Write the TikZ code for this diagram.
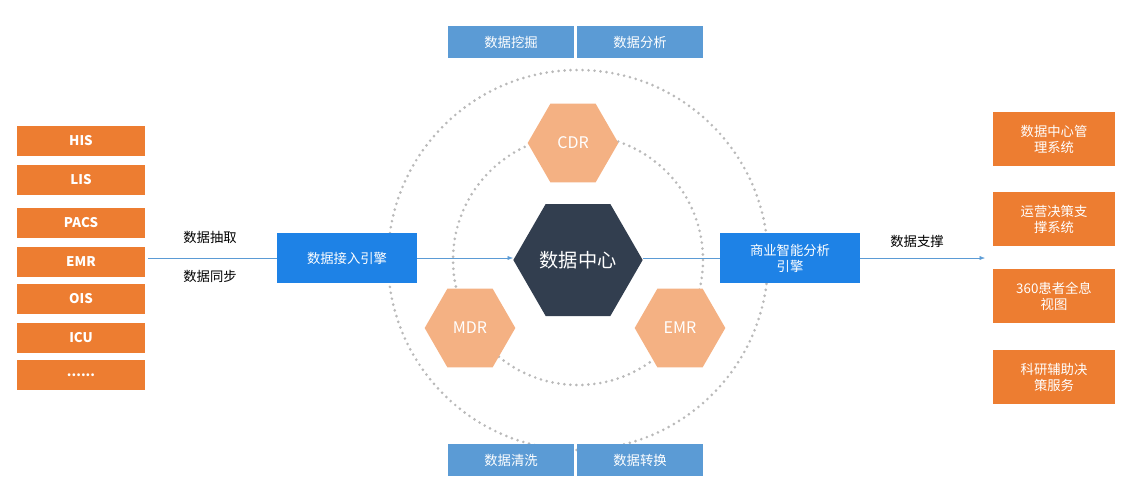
\documentclass[tikz,border=0pt]{standalone}
\usepackage{fontspec}
\newfontfamily\cjk{Noto Sans CJK SC}
\usetikzlibrary{shapes.geometric,arrows.meta}
\definecolor{orange}{HTML}{ED7D31}
\definecolor{lightorange}{HTML}{F4B183}
\definecolor{deepblue}{HTML}{1E82E6}
\definecolor{lightblue}{HTML}{5B9BD5}
\definecolor{darkhex}{HTML}{323E4F}
\begin{document}
\begin{tikzpicture}[x=0.75pt,y=-0.75pt,font=\cjk]
		\tikzstyle{source}=[fill=orange,text=white,font=\cjk\bfseries,minimum width=96pt,minimum height=22pt,inner sep=0pt]
		\tikzstyle{service}=[fill=orange,text=white,font=\cjk,minimum width=92pt,minimum height=40pt,align=center,inner sep=0pt]
		\tikzstyle{moteur}=[fill=deepblue,text=white,minimum width=105pt,minimum height=38pt,align=center,inner sep=0pt]
		\tikzstyle{outil}=[fill=lightblue,text=white,minimum width=95pt,minimum height=24pt,inner sep=0pt]
		\tikzstyle{hexa}=[regular polygon,regular polygon sides=6,fill=lightorange,text=white,minimum size=68pt,inner sep=0pt,font=\cjk\large]
		\tikzstyle{fleche}=[-{Latex[length=4pt]},lightblue]
		\tikzstyle{cercle}=[gray!55,line width=2.2pt,dash pattern=on 0pt off 4.5pt,line cap=round]

		\useasboundingbox (0,0) rectangle (1141,500);

		% cercles
		\draw[cercle] (578,260) circle[radius=190];
		\draw[cercle] (578,260) circle[radius=125];

		% sources
		\node[source] (his) at (81,141) {HIS};
		\node[source] (lis) at (81,180) {LIS};
		\node[source] (pacs) at (81,223) {PACS};
		\node[source] (emrs) at (81,262) {EMR};
		\node[source] (ois) at (81,299) {OIS};
		\node[source] (icu) at (81,338) {ICU};
		\node[source] (etc) at (81,375) {......};

		% centre
		\node[regular polygon,regular polygon sides=6,fill=darkhex,text=white,minimum size=97pt,inner sep=0pt,font=\cjk\Large] (centre) at (578,260) {数据中心};
		\node[hexa] (cdr) at (573,143) {CDR};
		\node[hexa] (mdr) at (470,328) {MDR};
		\node[hexa] (emr) at (680,328) {EMR};

		% moteurs
		\node[moteur] (acces) at (347,258) {数据接入引擎};
		\node[moteur] (bi) at (790,258) {商业智能分析\\引擎};

		% outils
		\node[outil] (fouille) at (511,42) {数据挖掘};
		\node[outil] (analyse) at (640,42) {数据分析};
		\node[outil] (nettoyage) at (511,460) {数据清洗};
		\node[outil] (conversion) at (640,460) {数据转换};

		% services
		\node[service] (gestion) at (1054,139) {数据中心管\\理系统};
		\node[service] (decision) at (1054,219) {运营决策支\\撑系统};
		\node[service] (vue) at (1054,296) {360患者全息\\视图};
		\node[service] (recherche) at (1054,377) {科研辅助决\\策服务};

		\coordinate (depart) at (148,258);
		\coordinate (arrivee) at (985,258);

		\draw[lightblue] (depart)--(acces.west);
		\node (extraction) at (210,237) {数据抽取};
		\node (synchro) at (210,276) {数据同步};
		\draw[fleche] (acces.east)--(acces.east-|centre.west);
		\draw[lightblue] (bi.west-|centre.east)--(bi.west);
		\draw[fleche] (bi.east)--(arrivee);
		\node (support) at (917,241) {数据支撑};
	\end{tikzpicture}
\end{document}
